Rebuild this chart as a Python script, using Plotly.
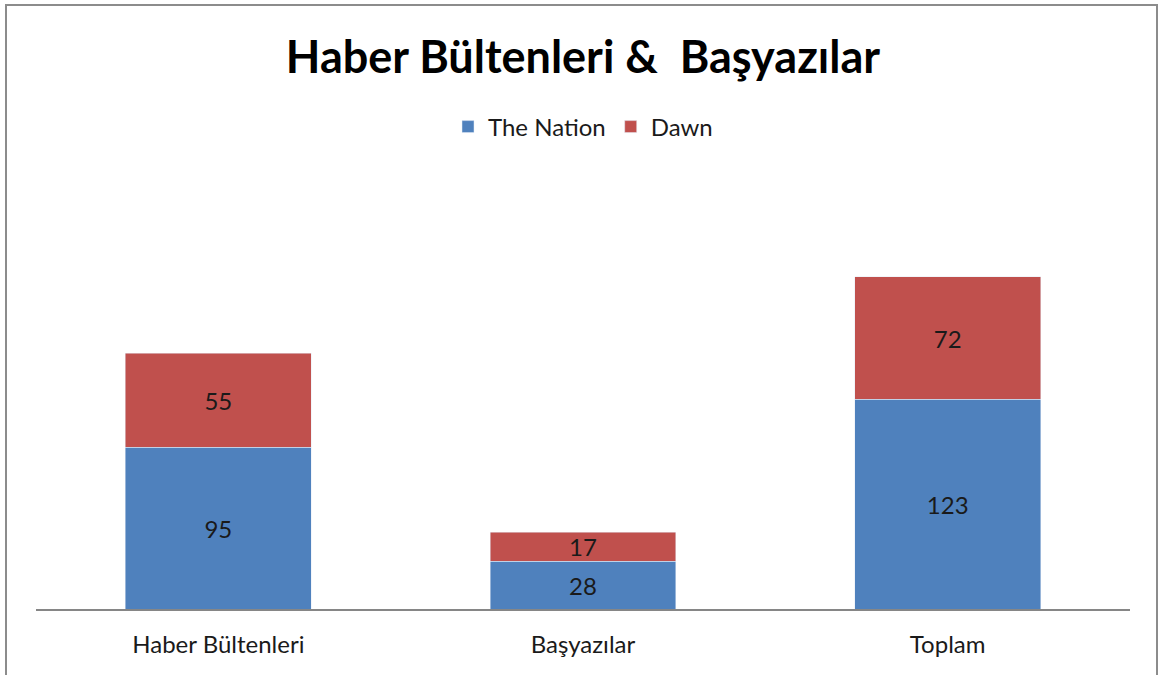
import plotly.graph_objects as go

categories = ["Haber Bültenleri", "Başyazılar", "Toplam"]
nation = [95, 28, 123]
dawn = [55, 17, 72]

FONT = "Lato, 'Open Sans', sans-serif"
W, H = 1162, 675

fig = go.Figure()
fig.add_trace(go.Bar(
    x=categories, y=nation, name="The Nation",
    marker=dict(color="#4f81bd"),
    text=nation, textposition="inside", insidetextanchor="middle", textangle=0,
    constraintext="none",
    textfont=dict(size=24, color="#1a1a1a", family=FONT),
))
fig.add_trace(go.Bar(
    x=categories, y=dawn, name="Dawn",
    marker=dict(color="#c0504d"),
    text=dawn, textposition="inside", insidetextanchor="middle", textangle=0,
    constraintext="none",
    textfont=dict(size=24, color="#1a1a1a", family=FONT),
))

fig.update_layout(
    barmode="stack",
    bargap=0.49,
    width=W, height=H,
    margin=dict(l=36, r=32, t=183, b=66),
    paper_bgcolor="white",
    plot_bgcolor="white",
    font=dict(family=FONT, size=24, color="#1a1a1a"),
    title=dict(
        text="<b>Haber Bültenleri &  Başyazılar</b>",
        x=583 / W, xanchor="center", y=1 - 57 / H, yanchor="middle",
        font=dict(size=45, color="black", family=FONT),
    ),
    legend=dict(
        orientation="h", x=0.5, xanchor="center",
        y=(609 - 127) / 426, yanchor="middle",
        font=dict(size=24, family=FONT),
        traceorder="normal",
        itemwidth=30,
    ),
    xaxis=dict(
        showline=True, linecolor="#868686", linewidth=2,
        ticks="", tickfont=dict(size=24, family=FONT),
        ticklabelstandoff=13,
        range=[-0.5, 2.5],
    ),
    yaxis=dict(
        range=[0, 250], visible=False, showgrid=False,
    ),
    shapes=[dict(
        type="rect", xref="paper", yref="paper",
        x0=(6 - 36) / 1094, x1=(1157 - 36) / 1094,
        y0=(609 - 690) / 426, y1=(609 - 5) / 426,
        line=dict(color="#8c8c8c", width=2),
        fillcolor="rgba(0,0,0,0)", layer="below",
    )],
)

# drop the default body margin so the figure sits at the page corner
fig.write_html(
    "out.html",
    config={"displayModeBar": False},
    post_script="document.body.style.margin='0';",
)
